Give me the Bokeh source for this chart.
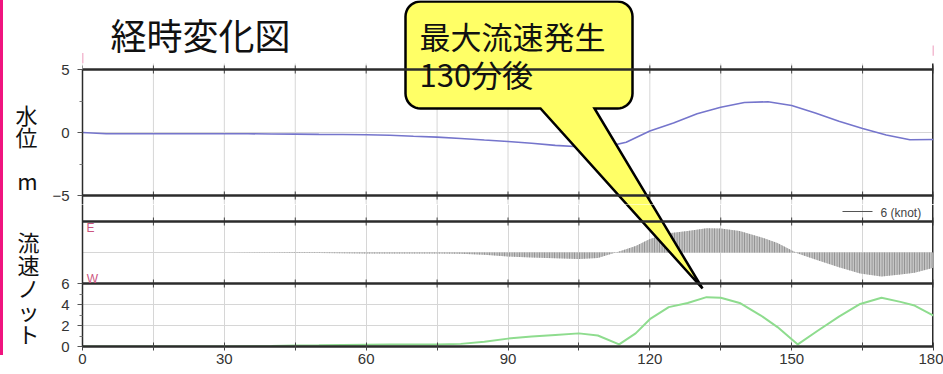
import numpy as np
from bokeh.plotting import figure
from bokeh.models import Range1d, FixedTicker, Span, Label, LinearAxis
from bokeh.layouts import column
from bokeh.embed import file_html
from bokeh.resources import INLINE

# ---------------- data ----------------
level_time = [0, 5, 10, 15, 20, 25, 30, 35, 40, 45, 50, 55, 60, 65, 70, 75, 80, 85, 90,
              95, 100, 105, 110, 115, 120, 125, 130, 135, 140, 145, 150, 155, 160, 165,
              170, 175, 180]
level_m = [0.0, -0.1, -0.1, -0.1, -0.1, -0.1, -0.1, -0.1, -0.12, -0.13, -0.15, -0.16,
           -0.18, -0.22, -0.3, -0.37, -0.48, -0.6, -0.71, -0.85, -1.02, -1.13, -1.2,
           -0.78, 0.12, 0.75, 1.48, 2.0, 2.38, 2.44, 2.14, 1.55, 0.9, 0.32, -0.2, -0.58,
           -0.55]

speed_time = [0, 10, 20, 30, 40, 45, 50, 55, 60, 65, 70, 75, 80, 85, 90, 95, 100, 105,
              109, 113.5, 117, 120, 124, 128, 132, 135, 139, 143.5, 147, 151.3, 155.5,
              160, 164.5, 169, 173, 176, 180]
speed_knot = [0.0, 0.0, 0.0, 0.0, 0.05, 0.1, 0.12, 0.15, 0.17, 0.18, 0.19, 0.2, 0.25,
              0.45, 0.75, 0.95, 1.1, 1.25, 1.05, 0.2, 1.25, 2.6, 3.75, 4.15, 4.7, 4.65,
              4.15, 2.95, 1.85, 0.2, 1.5, 2.85, 4.05, 4.65, 4.25, 3.9, 2.95]
# flow direction: +1 = E, -1 = W
speed_dir = [-1] * 19 + [1] * 10 + [-1] * 8

x_major = [0, 30, 60, 90, 120, 150, 180]
x_minor = [15, 45, 75, 105, 135, 165]
level_ticks = [5, 0, -5]
level_minor = [2.5, -2.5]
speed_ticks = [0, 2, 4, 6]
speed_minor = [1, 3, 5]
current_lim = 6  # knots, +-

# ---------------- layout (pixels) ----------------
W, H = 943, 374
FL, FR = 82, 933          # frame left/right
SPLIT = 204               # boundary between the two figures
P1 = (69, 195)            # level panel top/bottom
P2 = (221, 283)           # current vector panel
P3 = (283, 346)           # speed panel
BOTTOM_AXIS = H - P3[1]

def make_range(v_top, pix_top, v_bot, pix_bot, f_top, f_bot):
    s = (v_top - v_bot) / (pix_bot - pix_top)
    return Range1d(v_bot - (f_bot - pix_bot) * s, v_top + (pix_top - f_top) * s)

lvl = make_range(level_ticks[0], P1[0], level_ticks[-1], P1[1], 0, SPLIT)
spd = make_range(speed_ticks[-1], P3[0], speed_ticks[0], P3[1], SPLIT, P3[1])
cur_extra = make_range(current_lim, P2[0], -current_lim, P2[1], SPLIT, P3[1])

CJK = "Noto Sans CJK JP"
NUM = "Liberation Sans"
BORDER = "#2b2b2b"
GRID = "#d6d6d6"
PINK = "#f0147f"

xr = Range1d(0, 180)
grid_t = sorted(x_major + x_minor)

def base_fig(h, yr, bottom):
    p = figure(width=W, height=h, x_range=xr, y_range=yr, output_backend="svg",
               toolbar_location=None, min_border_left=FL, min_border_right=W - FR,
               min_border_top=0, min_border_bottom=bottom)
    p.outline_line_color = None
    p.background_fill_color = "white"
    p.border_fill_alpha = 0
    return p

def style_left_axis(ax, ticks, minor, bounds):
    ax.ticker = FixedTicker(ticks=ticks, minor_ticks=minor)
    ax.bounds = bounds
    ax.axis_line_color = BORDER
    ax.axis_line_width = 1.5
    ax.major_tick_in = 0
    ax.major_tick_out = 5
    ax.minor_tick_in = 0
    ax.minor_tick_out = 3
    ax.major_tick_line_color = "#555"
    ax.minor_tick_line_color = "#777"
    ax.major_label_standoff = 8
    ax.major_label_text_font = NUM
    ax.major_label_text_font_size = "15px"
    ax.major_label_text_color = "#333"

def name_axis(p, text, standoff, lh):
    ax = LinearAxis(ticker=FixedTicker(ticks=[]), axis_line_color=None,
                    major_tick_in=0, major_tick_out=0,
                    minor_tick_in=0, minor_tick_out=0, major_label_standoff=0,
                    axis_label=text, axis_label_orientation="horizontal",
                    axis_label_text_font=CJK, axis_label_text_font_size="22px",
                    axis_label_text_font_style="normal", axis_label_text_color="#111",
                    axis_label_standoff=standoff, axis_label_text_line_height=lh,
                    axis_label_text_align="center")
    p.add_layout(ax, "left")

def callout(p):
    left, top, right, bottom, r = 405, 1, 632, 108, 15
    tail_l, tail_r, tip = 540, 594, (702, 288)
    xs, ys = [], []
    def arc(cx, cy, a0, a1):
        for a in np.linspace(np.radians(a0), np.radians(a1), 10):
            xs.append(cx + r * np.cos(a)); ys.append(cy + r * np.sin(a))
    arc(left + r, top + r, 180, 270)
    arc(right - r, top + r, 270, 360)
    arc(right - r, bottom - r, 0, 90)
    xs.extend([tail_r, tip[0], tail_l]); ys.extend([bottom, tip[1], bottom])
    arc(left + r, bottom - r, 90, 180)
    p.patch(xs, ys, fill_color="#ffff66", line_color="black", line_width=2.5,
            line_join="miter", x_range_name="px", y_range_name="px")

def border_ticks(p, loc, scale, rname):
    d = 4 * scale
    p.segment(x0=grid_t, x1=grid_t, y0=[loc - d] * len(grid_t), y1=[loc + d] * len(grid_t),
              line_color="#444", line_width=1, y_range_name=rname)

# ---------------- figure 1: water level ----------------
p1 = base_fig(SPLIT, lvl, 0)
p1.extra_x_ranges = {"px": Range1d(FL, FR)}
p1.extra_y_ranges = {"px": Range1d(SPLIT, 0)}
for a in p1.xaxis:
    a.visible = False
p1.xgrid.visible = False
style_left_axis(p1.yaxis[0], level_ticks, level_minor, (lvl.start, level_ticks[0]))
p1.ygrid[0].ticker = FixedTicker(ticks=[0])
p1.ygrid.grid_line_color = GRID
lscale = (level_ticks[0] - level_ticks[-1]) / (P1[1] - P1[0])
# leading blank lines push the block down to the level panel
name_axis(p1, "\n\n\n\n水\n位\n\nm", 12, 0.69)

p1.segment(x0=grid_t, x1=grid_t, y0=[level_ticks[0] + 6 * lscale] * len(grid_t),
           y1=[lvl.start] * len(grid_t), line_color=GRID, line_width=1)
p1.segment(x0=[180], x1=[180], y0=[level_ticks[0] + 6 * lscale], y1=[lvl.start],
           line_color=BORDER, line_width=3)
p1.line(level_time, level_m, line_color="#7575cc", line_width=1.6)
for loc in (level_ticks[0], level_ticks[-1]):
    p1.add_layout(Span(location=loc, dimension="width", line_color=BORDER, line_width=2.5))
    border_ticks(p1, loc, lscale, "default")
p1.segment(x0=[0, 180], x1=[0, 180], y0=[level_ticks[0] + 0.5, level_ticks[0] + 1.1],
           y1=[level_ticks[0] + 1.3, level_ticks[0] + 1.9], line_color="#e87aa5", line_width=1.5)

p1.add_layout(Label(x=200, y=33, x_range_name="px", y_range_name="px", text="経時変化図",
                    text_font=CJK, text_font_size="36px", text_align="center",
                    text_baseline="middle", text_color="#111"))
callout(p1)
p1.add_layout(Label(x=419, y=35, x_range_name="px", y_range_name="px", text="最大流速発生",
                    text_font=CJK, text_font_size="31px", text_align="left",
                    text_baseline="middle", text_color="#111"))
p1.add_layout(Label(x=419, y=73, x_range_name="px", y_range_name="px", text="130分後",
                    text_font=CJK, text_font_size="31px", text_align="left",
                    text_baseline="middle", text_color="#111"))

# ---------------- figure 2: current vectors + speed ----------------
p2 = base_fig(H - SPLIT, spd, BOTTOM_AXIS)
p2.extra_y_ranges = {"cur": cur_extra, "px": Range1d(P3[1], SPLIT)}
p2.extra_x_ranges = {"px": Range1d(FL, FR)}
xa = p2.xaxis[0]
xa.ticker = FixedTicker(ticks=x_major, minor_ticks=x_minor)
xa.axis_line_color = BORDER
xa.axis_line_width = 2.5
xa.major_tick_in = 4
xa.major_tick_out = 4
xa.minor_tick_in = 4
xa.minor_tick_out = 4
xa.major_tick_line_color = "#444"
xa.minor_tick_line_color = "#444"
xa.major_label_standoff = 3
xa.major_label_text_font = NUM
xa.major_label_text_font_size = "15px"
xa.major_label_text_color = "#333"
p2.xgrid[0].ticker = FixedTicker(ticks=x_major, minor_ticks=x_minor)
p2.xgrid.grid_line_color = GRID
p2.xgrid.minor_grid_line_color = GRID
style_left_axis(p2.yaxis[0], speed_ticks, speed_minor, (0, spd.end))
p2.ygrid[0].ticker = FixedTicker(ticks=speed_ticks[1:-1])
p2.ygrid.grid_line_color = GRID
sscale = (speed_ticks[-1] - speed_ticks[0]) / (P3[1] - P3[0])
name_axis(p2, "\n流\n速\nノ\nッ\nト", 19, 0.72)
p2.segment(x0=[180], x1=[180], y0=[0], y1=[spd.end], line_color=BORDER, line_width=3)

p2.add_layout(Span(location=0, dimension="width", line_color=GRID, line_width=1,
                   y_range_name="cur", level="underlay"))

signed = [s * d for s, d in zip(speed_knot, speed_dir)]
p2.varea(x=speed_time, y1=[0] * len(speed_time), y2=signed, y_range_name="cur",
         fill_color="#c4c4c4", fill_alpha=1, hatch_pattern="|", hatch_color="#8a8a8a",
         hatch_scale=2.5, hatch_weight=1)
p2.line(speed_time, speed_knot, line_color="#8edc8e", line_width=2)

cscale = 2 * current_lim / (P2[1] - P2[0])
p2.add_layout(Span(location=current_lim, dimension="width", line_color=BORDER,
                   line_width=2.5, y_range_name="cur"))
p2.add_layout(Span(location=speed_ticks[-1], dimension="width", line_color=BORDER,
                   line_width=2.5))
border_ticks(p2, current_lim, cscale, "cur")
border_ticks(p2, speed_ticks[-1], sscale, "default")

p2.add_layout(Label(x=90, y=227, x_range_name="px", y_range_name="px", text="E",
                    text_font=NUM, text_font_size="12px", text_align="center",
                    text_baseline="middle", text_color="#cc5580"))
p2.add_layout(Label(x=92, y=278, x_range_name="px", y_range_name="px", text="W",
                    text_font=NUM, text_font_size="12px", text_align="center",
                    text_baseline="middle", text_color="#cc5580"))
p2.segment(x0=[842], x1=[872], y0=[211], y1=[211], x_range_name="px", y_range_name="px",
           line_color="#555", line_width=1)
p2.add_layout(Label(x=880, y=212, x_range_name="px", y_range_name="px", text="6 (knot)",
                    text_font=NUM, text_font_size="12px", text_align="left",
                    text_baseline="middle", text_color="#444"))
callout(p2)

layout = column(p1, p2, spacing=0,
                styles={"background": "linear-gradient(%s, %s) 0 0 / 3px 355px no-repeat, white"
                        % (PINK, PINK)})
open("out.html", "w").write(file_html(layout, INLINE))
